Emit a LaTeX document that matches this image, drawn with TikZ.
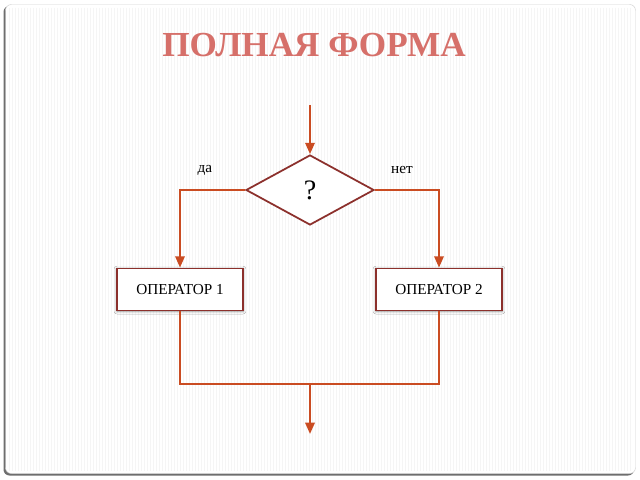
\documentclass[tikz,border=0pt]{standalone}
\usepackage{fontspec}
\setmainfont{Liberation Serif}
\usepackage{tikz}
\usetikzlibrary{positioning,arrows.meta,shapes.geometric,shadows.blur}

\definecolor{titlered}{RGB}{214,112,106}
\definecolor{flowline}{RGB}{202,76,34}
\definecolor{boxred}{RGB}{140,48,44}
\definecolor{framegray}{RGB}{110,110,110}

\begin{document}
\begin{tikzpicture}[x=0.03cm, y=-0.03cm,
    flow/.style={draw=flowline, line width=1.9pt},
    arr/.style={flow, -{Triangle[length=3.4mm, width=2.8mm]}},
    opbox/.style={rectangle, draw=boxred, line width=1.5pt, fill=white,
                  minimum width=3.78cm, minimum height=1.26cm,
                  font=\fontsize{13}{15}\selectfont,
                  blur shadow={shadow xshift=0pt, shadow yshift=-0.5pt,
                               shadow blur radius=2.5pt, shadow opacity=45}},
    cond/.style={diamond, draw=boxred, line width=1.5pt, fill=white,
                 inner sep=0pt, minimum width=3.84cm, minimum height=2.1cm,
                 font=\fontsize{24}{26}\selectfont},
    branch/.style={font=\fontsize{13}{15}\selectfont}]
    \useasboundingbox (0,0) rectangle (640,480);
    % frame with stripes
    \fill[framegray, rounded corners=5pt] (3.5,6) rectangle (634,475.5);
    \fill[white, rounded corners=5pt] (5.5,4.5) rectangle (635.5,473.5);
    \foreach \sx in {9,12,...,630}
      \draw[gray!8, line width=0.4pt] (\sx,8) -- (\sx,471);
    \draw[gray!35, rounded corners=5pt] (5.5,4.5) rectangle (635.5,473.5);

    % title
    \node (title) at (314,45) {\fontsize{30}{34}\selectfont\bfseries\color{titlered}ПОЛНАЯ ФОРМА};

    % flowchart
    \coordinate (start) at (310,105);
    \node[cond] (q) at (310,190) {?};
    \node[opbox] (op1) at (180,289.5) {ОПЕРАТОР 1};
    \node[opbox] (op2) at (439,289.5) {ОПЕРАТОР 2};
    \coordinate (join) at (310,384);
    \coordinate (stop) at (310,434);
    \node[branch] (yes) at (205,170) {да};
    \node[branch] (no) at (402,170) {нет};

    \draw[arr] (start) -- (q.north);
    \draw[arr] (q.west) -| (op1.north);
    \draw[arr] (q.east) -| (op2.north);
    \draw[flow] (op1.south) |- (join) -| (op2.south);
    \draw[arr] (join) -- (stop);
\end{tikzpicture}
\end{document}
